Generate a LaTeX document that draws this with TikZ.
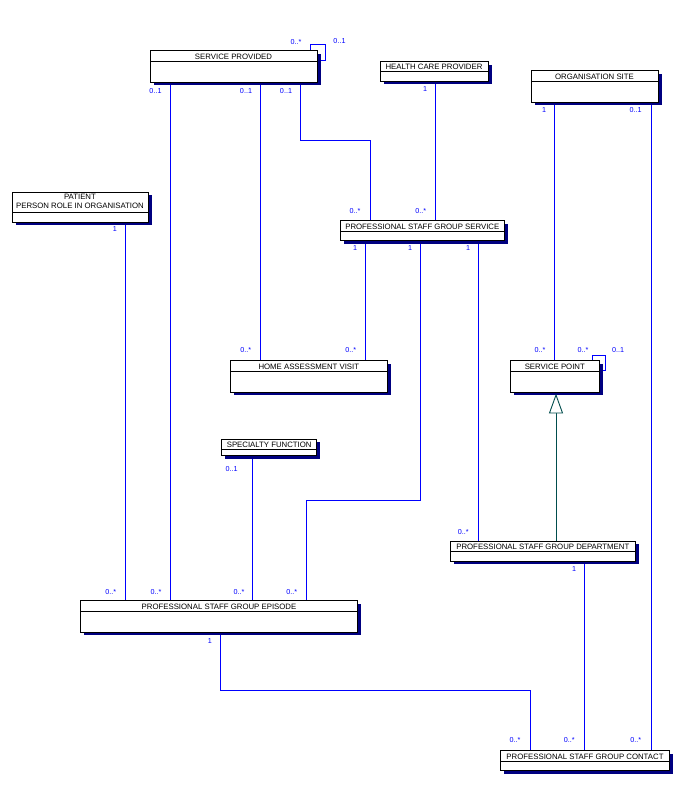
\documentclass[tikz,border=0pt]{standalone}
\usepackage{fontspec}
\setmainfont{Liberation Sans}
\usetikzlibrary{shadows,backgrounds}
\definecolor{shadowblue}{RGB}{0,0,128}
\definecolor{connblue}{RGB}{0,0,255}
\definecolor{genteal}{RGB}{0,77,77}
\tikzset{
  cls/.style={draw=black, line width=0.9pt, fill=white, rectangle, inner sep=0pt, outer sep=0pt, anchor=north west,
    drop shadow={shadow xshift=3.5pt, shadow yshift=-3pt, fill=shadowblue, opacity=1}},
  divline/.style={draw=black, line width=0.9pt},
  ttl/.style={inner sep=0pt, font=\fontsize{7.8}{8.8}\selectfont, text=black, align=center, yshift=-0.4pt},
  mult/.style={inner sep=0pt, font=\fontsize{7.2}{8}\selectfont, text=connblue},
  conn/.style={draw=connblue, line width=0.9pt},
  gen/.style={draw=genteal, line width=0.9pt}
}
\begin{document}
\begin{tikzpicture}[x=1pt,y=-1pt]
\useasboundingbox (0,0) rectangle (683,785);

% ---------- classes ----------
\node[cls, minimum width=167pt, minimum height=31.3pt] (sp) at (150,50.7) {};
\draw[divline] (sp.west |- 0,61.7) -- (sp.east |- 0,61.7);
\node[ttl] (tsp) at (233.5,56.6) {SERVICE PROVIDED};

\node[cls, minimum width=108pt, minimum height=19.3pt] (hcp) at (380,61.7) {};
\draw[divline] (hcp.west |- 0,71) -- (hcp.east |- 0,71);
\node[ttl] (thcp) at (434,66.7) {HEALTH CARE PROVIDER};

\node[cls, minimum width=127pt, minimum height=31.3pt] (os) at (531,70.7) {};
\draw[divline] (os.west |- 0,81) -- (os.east |- 0,81);
\node[ttl] (tos) at (594.5,76.2) {ORGANISATION SITE};

\node[cls, minimum width=136pt, minimum height=30pt] (pat) at (12,192) {};
\draw[divline] (pat.west |- 0,212) -- (pat.east |- 0,212);
\node[ttl] (tpat1) at (80,196.6) {PATIENT};
\node[ttl] (tpat2) at (80,205.8) {PERSON ROLE IN ORGANISATION};

\node[cls, minimum width=163.3pt, minimum height=20pt] (psgs) at (340.7,220.7) {};
\draw[divline] (psgs.west |- 0,231) -- (psgs.east |- 0,231);
\node[ttl] (tpsgs) at (422.3,226.2) {PROFESSIONAL STAFF GROUP SERVICE};

\node[cls, minimum width=156.3pt, minimum height=31.3pt] (hav) at (230.7,360.7) {};
\draw[divline] (hav.west |- 0,371) -- (hav.east |- 0,371);
\node[ttl] (thav) at (308.8,366.2) {HOME ASSESSMENT VISIT};

\node[cls, minimum width=88.3pt, minimum height=31.3pt] (spt) at (510.7,360.7) {};
\draw[divline] (spt.west |- 0,371.7) -- (spt.east |- 0,371.7);
\node[ttl] (tspt) at (554.8,366.5) {SERVICE POINT};

\node[cls, minimum width=95pt, minimum height=16.4pt] (spf) at (221.7,439.3) {};
\draw[divline] (spf.west |- 0,449) -- (spf.east |- 0,449);
\node[ttl] (tspf) at (269.2,444.5) {SPECIALTY FUNCTION};

\node[cls, minimum width=184.3pt, minimum height=20pt] (dep) at (450.7,541) {};
\draw[divline] (dep.west |- 0,551.7) -- (dep.east |- 0,551.7);
\node[ttl] (tdep) at (542.8,546.6) {PROFESSIONAL STAFF GROUP DEPARTMENT};

\node[cls, minimum width=276.6pt, minimum height=31.6pt] (ep) at (80.7,600.7) {};
\draw[divline] (ep.west |- 0,611.7) -- (ep.east |- 0,611.7);
\node[ttl] (tep) at (219,606.5) {PROFESSIONAL STAFF GROUP EPISODE};

\node[cls, minimum width=168.6pt, minimum height=20pt] (con) at (500.7,750.7) {};
\draw[divline] (con.west |- 0,761) -- (con.east |- 0,761);
\node[ttl] (tcon) at (585,756.2) {PROFESSIONAL STAFF GROUP CONTACT};

% ---------- helper coordinates ----------
\coordinate (spbend) at (370,140);
\coordinate (psgsbend) at (306,500);
\coordinate (epbend) at (530,690);
\coordinate (sploopa) at (325,44.7);
\coordinate (sploopb) at (320.5,60.7);
\coordinate (sptloopa) at (605.7,355.7);
\coordinate (sptloopb) at (602,370);
\coordinate (gtip) at (556,395);
\coordinate (gleft) at (549.5,413);
\coordinate (gright) at (562.5,413);
\coordinate (gbase) at (556,413);

% ---------- connectors ----------
\begin{scope}[on background layer]
\fill[white] (0,0) rectangle (683,785);
\draw[conn] (sp.south -| 170.7,0) -- (ep.north -| 170.7,0);
\draw[conn] (sp.south -| 260,0) -- (hav.north -| 260,0);
\draw[conn] (sp.south -| 300.7,0) |- (spbend) -- (psgs.north -| 370,0);
\draw[conn] (hcp.south -| 435,0) -- (psgs.north -| 435,0);
\draw[conn] (os.south -| 554.5,0) -- (spt.north -| 554.5,0);
\draw[conn] (os.south -| 651,0) -- (con.north -| 651,0);
\draw[conn] (pat.south -| 125,0) -- (ep.north -| 125,0);
\draw[conn] (psgs.south -| 365,0) -- (hav.north -| 365,0);
\draw[conn] (psgs.south -| 420.7,0) |- (psgsbend) -- (ep.north -| 306,0);
\draw[conn] (psgs.south -| 478.3,0) -- (dep.north -| 478.3,0);
\draw[conn] (spf.south -| 252.7,0) -- (ep.north -| 252.7,0);
\draw[conn] (dep.south -| 584,0) -- (con.north -| 584,0);
\draw[conn] (ep.south -| 220.7,0) |- (epbend) -- (con.north -| 530,0);
\draw[conn] (sp.north -| 310,0) |- (sploopa) |- (sploopb);
\draw[conn] (spt.north -| 592.7,0) |- (sptloopa) |- (sptloopb);
\draw[gen] (dep.north -| 556,0) -- (gbase);
\end{scope}
\draw[gen, fill=white] (gtip) -- (gleft) -- (gright) -- cycle;

% ---------- multiplicities ----------
\node[mult] (m1) at (155.5,90.7) {0..1};
\node[mult] (m2) at (246,90.7) {0..1};
\node[mult] (m3) at (286,90.7) {0..1};
\node[mult] (m4) at (296,41.7) {0..*};
\node[mult] (m5) at (339.5,40.7) {0..1};
\node[mult] (m6) at (425,89) {1};
\node[mult] (m7) at (544,110) {1};
\node[mult] (m8) at (635.7,110) {0..1};
\node[mult] (m9) at (115,229) {1};
\node[mult] (m10) at (355,210.7) {0..*};
\node[mult] (m11) at (420.7,210.7) {0..*};
\node[mult] (m12) at (355,248) {1};
\node[mult] (m13) at (410,248) {1};
\node[mult] (m14) at (468,248) {1};
\node[mult] (m15) at (245.7,350) {0..*};
\node[mult] (m16) at (350.7,350) {0..*};
\node[mult] (m17) at (540,350) {0..*};
\node[mult] (m18) at (583,350) {0..*};
\node[mult] (m19) at (618,350) {0..1};
\node[mult] (m20) at (231.7,469) {0..1};
\node[mult] (m21) at (463.3,532.3) {0..*};
\node[mult] (m22) at (574,569.3) {1};
\node[mult] (m23) at (110.7,591.7) {0..*};
\node[mult] (m24) at (156,591.7) {0..*};
\node[mult] (m25) at (239,591.7) {0..*};
\node[mult] (m26) at (291.7,591.7) {0..*};
\node[mult] (m27) at (210,640.7) {1};
\node[mult] (m28) at (515,740) {0..*};
\node[mult] (m29) at (569.3,740) {0..*};
\node[mult] (m30) at (635.7,740) {0..*};
\end{tikzpicture}
\end{document}
